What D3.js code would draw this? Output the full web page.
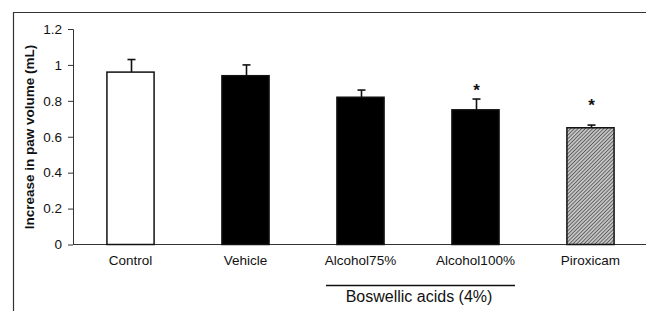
<!DOCTYPE html>
<html>
<head>
<meta charset="utf-8">
<script src="https://d3js.org/d3.v7.min.js"></script>
<style>
  body { margin: 0; background: #fff; }
  text { font-family: Arial, "Liberation Sans", sans-serif; fill: #111; }
</style>
</head>
<body>
<div id="chart"></div>
<script>
const groups = ["Control", "Vehicle", "Alcohol75%", "Alcohol100%", "Piroxicam"];
const means = [0.96, 0.94, 0.82, 0.75, 0.65];
const errors = [0.07, 0.06, 0.04, 0.06, 0.015];
const fills = ["white", "black", "black", "black", "hatch"];
const starGroups = ["Alcohol100%", "Piroxicam"];
const starValues = [0.875, 0.795];
const yTicks = [0, 0.2, 0.4, 0.6, 0.8, 1, 1.2];

const width = 646, height = 311;

const svg = d3.select("#chart")
    .append("svg")
    .attr("width", width)
    .attr("height", height);

// hatch pattern for piroxicam
const defs = svg.append("defs");
const pat = defs.append("pattern")
    .attr("id", "hatch")
    .attr("patternUnits", "userSpaceOnUse")
    .attr("width", 2.6)
    .attr("height", 2.6)
    .attr("patternTransform", "rotate(45)");
pat.append("rect").attr("width", 2.6).attr("height", 2.6).attr("fill", "#c4c4c4");
pat.append("line")
    .attr("x1", 0).attr("y1", 0).attr("x2", 0).attr("y2", 2.6)
    .attr("stroke", "#3a3a3a").attr("stroke-width", 1.3);

// outer frame (top + left only)
svg.append("path")
    .attr("d", "M13.5,311 V12.5 H646")
    .attr("fill", "none")
    .attr("stroke", "#333")
    .attr("stroke-width", 1.2);

const x = d3.scaleBand()
    .domain(groups)
    .range([73, 648])
    .paddingInner(0.59)
    .paddingOuter(0.295);

const y = d3.scaleLinear()
    .domain([0, 1.2])
    .range([244.5, 29]);

// y axis
const yAxis = svg.append("g")
    .attr("transform", "translate(73,0)")
    .call(d3.axisLeft(y).tickValues(yTicks).tickSize(5).tickPadding(6)
        .tickFormat(d => d3.format("")(d)));
yAxis.select(".domain").attr("stroke", "#333").attr("d", "M-5,29.5H0.5V244.5");
yAxis.selectAll(".tick line").attr("stroke", "#333");
yAxis.selectAll(".tick text")
    .style("font-size", "13.5px")
    .style("font-family", "Arial, 'Liberation Sans', sans-serif")
    .attr("fill", "#111");

// x axis baseline
svg.append("line")
    .attr("x1", 73).attr("x2", 646)
    .attr("y1", y(0)).attr("y2", y(0))
    .attr("stroke", "#333").attr("stroke-width", 1);

// error bars
const eb = svg.append("g");
groups.forEach((g, i) => {
    const cx = x(g) + x.bandwidth() / 2 + 1;
    eb.append("line")
        .attr("x1", cx).attr("x2", cx)
        .attr("y1", y(means[i])).attr("y2", y(means[i] + errors[i]))
        .attr("stroke", "#111").attr("stroke-width", 1.6);
    eb.append("line")
        .attr("x1", cx - 4).attr("x2", cx + 4)
        .attr("y1", y(means[i] + errors[i])).attr("y2", y(means[i] + errors[i]))
        .attr("stroke", "#111").attr("stroke-width", 1.6);
});

// bars
svg.selectAll("rect.bar")
    .data(groups)
    .enter()
    .append("rect")
    .attr("class", "bar")
    .attr("x", d => x(d))
    .attr("y", (d, i) => y(means[i]))
    .attr("width", x.bandwidth())
    .attr("height", (d, i) => y(0) - y(means[i]))
    .attr("fill", (d, i) => fills[i] === "hatch" ? "url(#hatch)" : fills[i])
    .attr("stroke", "#111")
    .attr("stroke-width", 1.5);

// stars
svg.selectAll("text.star")
    .data(starGroups)
    .enter()
    .append("text")
    .attr("class", "star")
    .attr("x", d => x(d) + x.bandwidth() / 2 + 1)
    .attr("y", (d, i) => y(starValues[i]) + 9)
    .attr("text-anchor", "middle")
    .style("font-size", "17px")
    .style("font-weight", "bold")
    .text("*");

// x labels
svg.selectAll("text.xlab")
    .data(groups)
    .enter()
    .append("text")
    .attr("class", "xlab")
    .attr("x", d => x(d) + x.bandwidth() / 2)
    .attr("y", 265)
    .attr("text-anchor", "middle")
    .style("font-size", "13.5px")
    .text(d => d);

// group bracket
svg.append("line")
    .attr("x1", 326).attr("x2", 515)
    .attr("y1", 285.5).attr("y2", 285.5)
    .attr("stroke", "#111").attr("stroke-width", 1.6);
svg.append("text")
    .attr("x", 419)
    .attr("y", 302)
    .attr("text-anchor", "middle")
    .style("font-size", "16px")
    .text("Boswellic acids (4%)");

// y title
svg.append("text")
    .attr("transform", "translate(34,137) rotate(-90)")
    .attr("text-anchor", "middle")
    .style("font-size", "13.5px")
    .style("font-weight", "bold")
    .text("Increase in paw volume (mL)");
</script>
</body>
</html>
